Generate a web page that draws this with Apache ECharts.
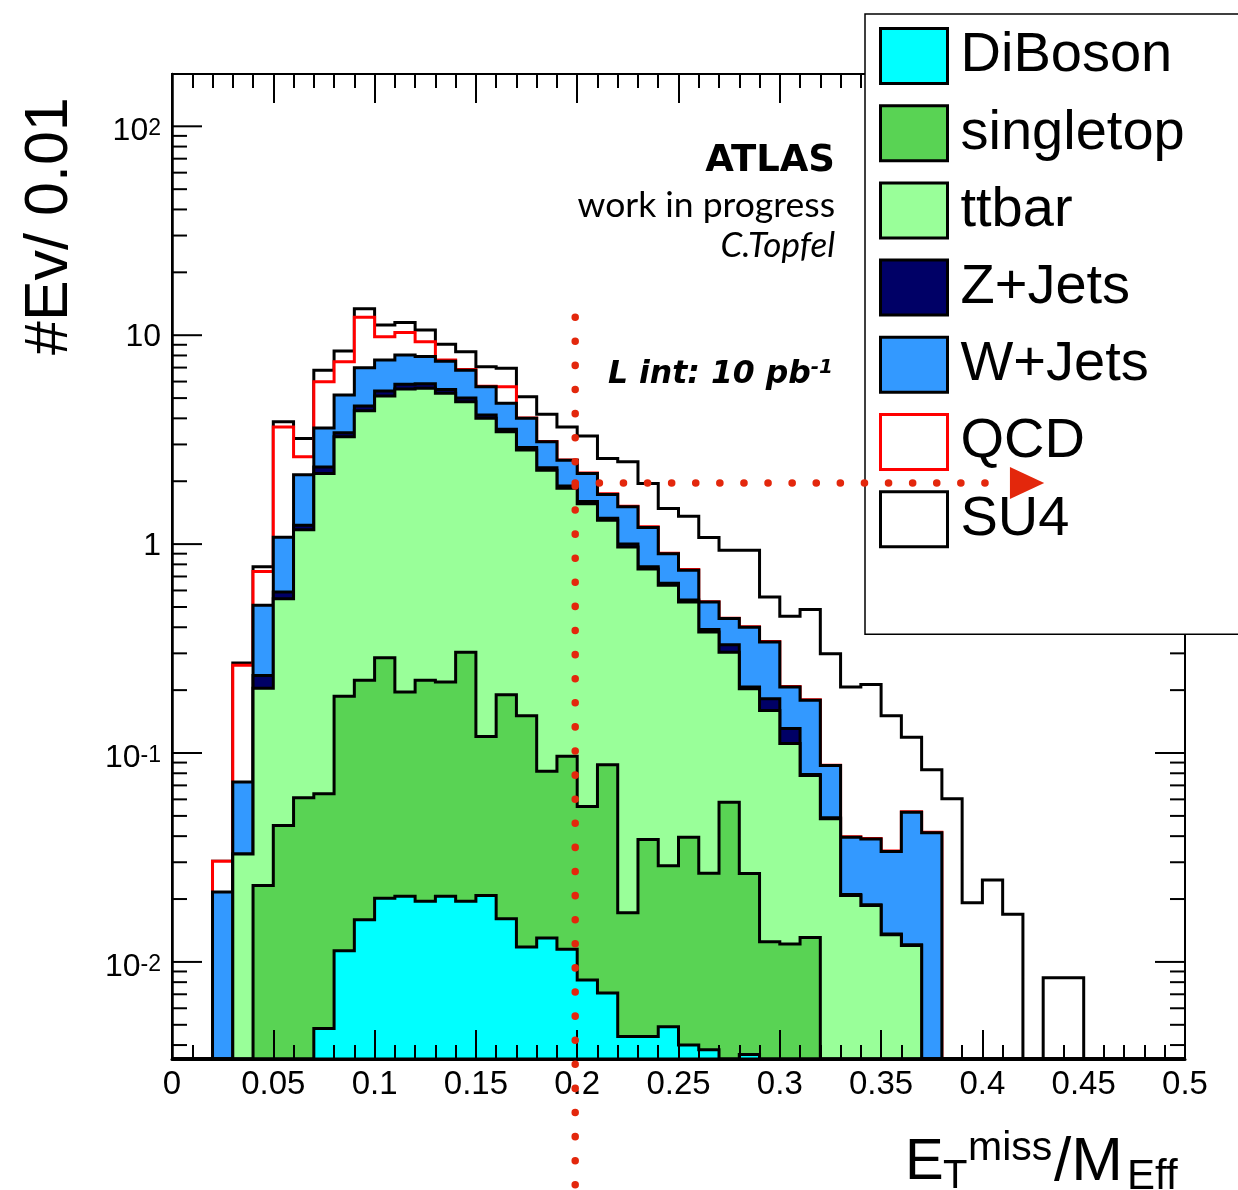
<!DOCTYPE html>
<html><head><meta charset="utf-8">
<script src="https://cdn.jsdelivr.net/npm/echarts@6/dist/echarts.min.js"></script>
<style>html,body{margin:0;padding:0;background:#fff}#c{width:1238px;height:1190px}</style>
</head><body><div id="c"></div>
<script>
// ---- data: lower bin edges (bin width 0.01) ----
const binLow = [0.00,0.01,0.02,0.03,0.04,0.05,0.06,0.07,0.08,0.09,
                0.10,0.11,0.12,0.13,0.14,0.15,0.16,0.17,0.18,0.19,
                0.20,0.21,0.22,0.23,0.24,0.25,0.26,0.27,0.28,0.29,
                0.30,0.31,0.32,0.33,0.34,0.35,0.36,0.37,0.38,0.39,
                0.40,0.41,0.42,0.43,0.44,0.45,0.46,0.47,0.48,0.49];
const binWidth = 0.01;

// stacked (cumulative) heights of each layer
const stackDiBoson = [0,0,0,0,0,0,0,0.0048,0.0113,0.0159,
  0.0202,0.0206,0.0195,0.0206,0.0195,0.0208,0.0161,0.0118,0.0130,0.0115,
  0.0082,0.0071,0.0044,0.0044,0.0049,0.0040,0.0038,0,0.0036,0,
  0,0,0,0,0,0,0,0,0,0, 0,0,0,0,0,0,0,0,0,0];
const stackSingletop = [0,0,0,0,0.0232,0.045,0.061,0.0638,0.187,0.223,
  0.286,0.196,0.223,0.219,0.304,0.120,0.190,0.151,0.0819,0.0966,
  0.0555,0.0879,0.0172,0.0385,0.0289,0.0395,0.0266,0.0582,0.0265,0.0125,
  0.0122,0.0131,0,0,0,0,0,0,0,0, 0,0,0,0,0,0,0,0,0,0];
const stackTtbar = [0,0,0,0.0329,0.204,0.548,1.17,2.18,3.27,4.35,
  5.12,5.52,5.57,5.27,4.80,4.00,3.45,2.82,2.26,1.85,
  1.56,1.30,0.97,0.76,0.635,0.528,0.38,0.304,0.203,0.160,
  0.111,0.078,0.0484,0.0208,0.0186,0.0135,0.0120,0,0,0, 0,0,0,0,0,0,0,0,0,0];
const stackZJets = [0,0,0,0.0329,0.235,0.59,1.23,2.34,3.41,4.58,
  5.40,5.82,5.85,5.50,5.00,4.15,3.55,2.90,2.32,1.90,
  1.60,1.33,1.00,0.78,0.65,0.54,0.39,0.33,0.207,0.182,
  0.131,0.079,0.049,0.021,0.0188,0.0136,0.0121,0,0,0, 0,0,0,0,0,0,0,0,0,0];
const stackWJets = [0,0,0.0216,0.0726,0.51,1.08,2.15,3.60,5.17,6.99,
  7.60,8.03,7.90,7.50,6.80,5.67,4.72,4.00,3.09,2.52,
  2.18,1.73,1.51,1.20,0.90,0.75,0.528,0.44,0.40,0.34,
  0.207,0.179,0.0872,0.0395,0.0388,0.0338,0.0521,0.0415,0,0, 0,0,0,0,0,0,0,0,0,0];
const stackQCD = [0,0,0.0303,0.263,0.74,3.64,2.62,5.99,7.46,12.2,
  9.84,10.3,9.30,7.60,6.85,5.70,5.67,4.02,3.10,2.53,
  2.19,1.74,1.52,1.21,0.905,0.755,0.53,0.442,0.402,0.342,
  0.208,0.18,0.0875,0.0397,0.039,0.034,0.0524,0.0417,0,0, 0,0,0,0,0,0,0,0,0,0];
const stackSU4 = [0,0,0.0303,0.27,0.78,3.85,3.20,6.80,8.40,13.4,
  11.2,11.5,10.6,9.04,8.33,7.06,6.94,5.07,4.19,3.64,
  3.29,2.57,2.48,1.95,1.48,1.36,1.076,0.935,0.935,0.558,
  0.451,0.486,0.299,0.207,0.213,0.151,0.119,0.0832,0.0604,0.0192,
  0.0247,0.0169,0,0.0084,0.0084,0,0,0,0,0];

// legend
const legendNames  = ['DiBoson','singletop','ttbar','Z+Jets','W+Jets','QCD','SU4'];
const legendFill   = ['#00ffff','#59d354','#99ff99','#000066','#3399ff','#ffffff','#ffffff'];
const legendStroke = ['#000000','#000000','#000000','#000000','#000000','#ff0000','#000000'];

// axes
const yMin = 0.00343, yMax = 178;
const xMin = 0, xMax = 0.5, xInterval = 0.05;
const yMajorTicks = [0.01,0.1,1,10,100];
const yMinorTicks = [0.004,0.005,0.006,0.007,0.008,0.009,
  0.02,0.03,0.04,0.05,0.06,0.07,0.08,0.09,
  0.2,0.3,0.4,0.5,0.6,0.7,0.8,0.9,
  2,3,4,5,6,7,8,9, 20,30,40,50,60,70,80,90];

// cut annotation
const cutX = 0.2, cutTopY = 12.2, cutArrowY = 1.96, arrowBaseX = 0.4136, arrowTipX = 0.4305;
const cutColor = '#e3270c';

const layers = [
  ['SU4', stackSU4], ['QCD', stackQCD], ['W+Jets', stackWJets], ['Z+Jets', stackZJets],
  ['ttbar', stackTtbar], ['singletop', stackSingletop], ['DiBoson', stackDiBoson]
];

function clampV(v){ if (!(v > 0)) return yMin; return Math.max(yMin, Math.min(yMax, v)); }

function layerSeries(name, values) {
  const k = legendNames.indexOf(name);
  const fill = legendFill[k], stroke = legendStroke[k];
  return {
    type: 'custom', name: name, z: 2, silent: true, clip: true,
    data: [[binLow[0], 1]], encode: {x: 0, y: 1},
    itemStyle: {color: fill, borderColor: stroke, borderWidth: 3},
    renderItem: function (params, api) {
      const pts = [];
      const n = binLow.length;
      pts.push(api.coord([binLow[0], yMin]));
      for (let i = 0; i < n; i++) {
        const v = clampV(values[i]);
        pts.push(api.coord([binLow[i], v]));
        pts.push(api.coord([binLow[i] + binWidth, v]));
      }
      pts.push(api.coord([binLow[n - 1] + binWidth, yMin]));
      return {type: 'polygon', shape: {points: pts},
        style: {fill: fill, stroke: stroke, lineWidth: 3, lineJoin: 'miter'}};
    }
  };
}

const tickData = yMajorTicks.map(v => [xMin, v, 1]).concat(yMinorTicks.map(v => [xMin, v, 0]));

const tickSeries = {
  type: 'custom', name: 'yticks', z: 5, silent: true, clip: false,
  data: tickData, encode: {x: 0, y: 1},
  renderItem: function (params, api) {
    const v = api.value(1), major = api.value(2) === 1;
    const len = major ? 30 : 15;
    const p = api.coord([xMin, v]), q = api.coord([xMax, v]);
    return {type: 'group', children: [
      {type: 'line', shape: {x1: p[0], y1: p[1], x2: p[0] + len, y2: p[1]}, style: {stroke: '#000', lineWidth: 2}},
      {type: 'line', shape: {x1: q[0] - len, y1: q[1], x2: q[0], y2: q[1]}, style: {stroke: '#000', lineWidth: 2}}
    ]};
  }
};

const cutSeries = {
  type: 'custom', name: 'cut', z: 60, silent: true, clip: false,
  data: [[cutX, cutTopY]], encode: {x: 0, y: 1},
  renderItem: function (params, api) {
    const top = api.coord([cutX, cutTopY]);
    const h0 = api.coord([cutX, cutArrowY]);
    const h1 = api.coord([arrowBaseX, cutArrowY]);
    const tip = api.coord([arrowTipX, cutArrowY]);
    const dot = {stroke: cutColor, lineWidth: 7.5, lineCap: 'round', lineDash: [0.1, 24]};
    return {type: 'group', children: [
      {type: 'line', shape: {x1: top[0] - 2, y1: top[1], x2: top[0] - 2, y2: api.getHeight()}, style: dot},
      {type: 'line', shape: {x1: h0[0] - 2, y1: h0[1], x2: h1[0] - 4, y2: h1[1]}, style: dot},
      {type: 'polygon', shape: {points: [[h1[0], h1[1] - 16], [tip[0], tip[1]], [h1[0], h1[1] + 16]]},
        style: {fill: cutColor}}
    ]};
  }
};

function txt(x, y, text, size, extra) {
  return Object.assign({type: 'text', x: x, y: y, z: 60,
    style: Object.assign({text: text, fontSize: size, fontFamily: 'Liberation Sans', fill: '#000',
      textAlign: 'left', align: 'left', textVerticalAlign: 'middle', verticalAlign: 'middle'}, extra || {})});
}

const chart = echarts.init(document.getElementById('c'), null, {renderer: 'canvas'});
const option = {
  animation: false,
  backgroundColor: '#fff',
  grid: {left: 172, top: 74, right: 53, bottom: 131, show: true, borderColor: '#000', borderWidth: 2, backgroundColor: 'transparent'},
  xAxis: [
    {type: 'value', min: xMin, max: xMax, interval: xInterval, position: 'bottom', z: 5,
     axisLine: {show: true, onZero: false, lineStyle: {color: '#000', width: 3}},
     axisTick: {show: true, inside: true, length: 29, lineStyle: {color: '#000', width: 2}},
     minorTick: {show: true, splitNumber: 5, length: 14, lineStyle: {color: '#000', width: 2}},
     splitLine: {show: false},
     axisLabel: {show: true, margin: 9, fontSize: 33, fontFamily: 'Liberation Sans', color: '#000'}},
    {type: 'value', min: xMin, max: xMax, interval: xInterval, position: 'top', z: 5,
     axisLine: {show: true, onZero: false, lineStyle: {color: '#000', width: 2}},
     axisTick: {show: true, inside: true, length: 29, lineStyle: {color: '#000', width: 2}},
     minorTick: {show: true, splitNumber: 5, length: 14, lineStyle: {color: '#000', width: 2}},
     splitLine: {show: false}, axisLabel: {show: false}}
  ],
  yAxis: [
    {type: 'log', logBase: 10, min: yMin, max: yMax, z: 5,
     axisLine: {show: true, onZero: false, lineStyle: {color: '#000', width: 2.5}},
     axisTick: {show: false}, splitLine: {show: false}, minorTick: {show: false},
     axisLabel: {
       show: true, margin: 11, showMinLabel: false, showMaxLabel: false, color: '#000',
       fontSize: 32, fontFamily: 'Liberation Sans',
       formatter: function (v) {
         const e = Math.log10(v), r = Math.round(e);
         if (Math.abs(e - r) > 0.01) return '';
         if (r === 0) return '{n|1}';
         if (r === 1) return '{n|10}';
         return '{b|10}{s|' + r + '}';
       },
       rich: {
         n: {fontSize: 32, fontFamily: 'Liberation Sans', color: '#000', padding: [4, 0, 0, 0]},
         b: {fontSize: 32, fontFamily: 'Liberation Sans', color: '#000', lineHeight: 34, padding: [10, 0, 0, 0]},
         s: {fontSize: 23, fontFamily: 'Liberation Sans', color: '#000', lineHeight: 23, verticalAlign: 'top', padding: [8, 0, 0, 0]}
       }
     }}
  ],
  legend: {
    left: 865, top: 14, orient: 'vertical', z: 50, selectedMode: false,
    backgroundColor: '#fff', borderColor: '#000', borderWidth: 1.5,
    padding: [13, 90, 86, 14],
    itemWidth: 67, itemHeight: 55, itemGap: 19.2, icon: 'rect',
    textStyle: {fontSize: 56, fontFamily: 'Liberation Sans', color: '#000', lineHeight: 56, padding: [0, 0, 0, 8]},
    data: legendNames.map((n, i) => ({name: n, icon: 'rect',
      itemStyle: {color: legendFill[i], borderColor: legendStroke[i], borderWidth: 3}}))
  },
  graphic: [
    {type: 'text', x: 50, y: 355, rotation: Math.PI / 2, z: 60,
     style: {text: '#Ev/ 0.01', fontSize: 61, fontFamily: 'Liberation Sans', fill: '#000',
             textAlign: 'left', align: 'left', textVerticalAlign: 'middle', verticalAlign: 'middle'}},
    txt(835, 161, 'ATLAS', 37, {fontWeight: 'bold', fontFamily: 'DejaVu Sans', textAlign: 'right', align: 'right'}),
    txt(835, 206, 'work in progress', 35.5, {fontFamily: 'Lato', textAlign: 'right', align: 'right'}),
    txt(835, 246, 'C.Topfel', 35, {fontFamily: 'Lato', fontStyle: 'italic', textAlign: 'right', align: 'right'}),
    {type: 'text', x: 833, y: 375, z: 60,
     style: {text: '{m|L int: 10 pb}{s|-1}', fill: '#000',
             textAlign: 'right', align: 'right', textVerticalAlign: 'middle', verticalAlign: 'middle',
             rich: {m: {fontSize: 31.5, fontWeight: 'bold', fontStyle: 'italic', fontFamily: 'DejaVu Sans', lineHeight: 34},
                    s: {fontSize: 20, fontWeight: 'bold', fontStyle: 'italic', fontFamily: 'DejaVu Sans', lineHeight: 20, verticalAlign: 'top'}}}},
    txt(905, 1163, 'E', 58),
    txt(943, 1177, 'T', 40),
    txt(968, 1149, 'miss', 41),
    txt(1054, 1163, '/M', 62),
    txt(1127, 1177, 'Eff', 42)
  ],
  series: layers.map(l => layerSeries(l[0], l[1])).concat([tickSeries, cutSeries])
};
chart.setOption(option);
</script>
</body></html>
